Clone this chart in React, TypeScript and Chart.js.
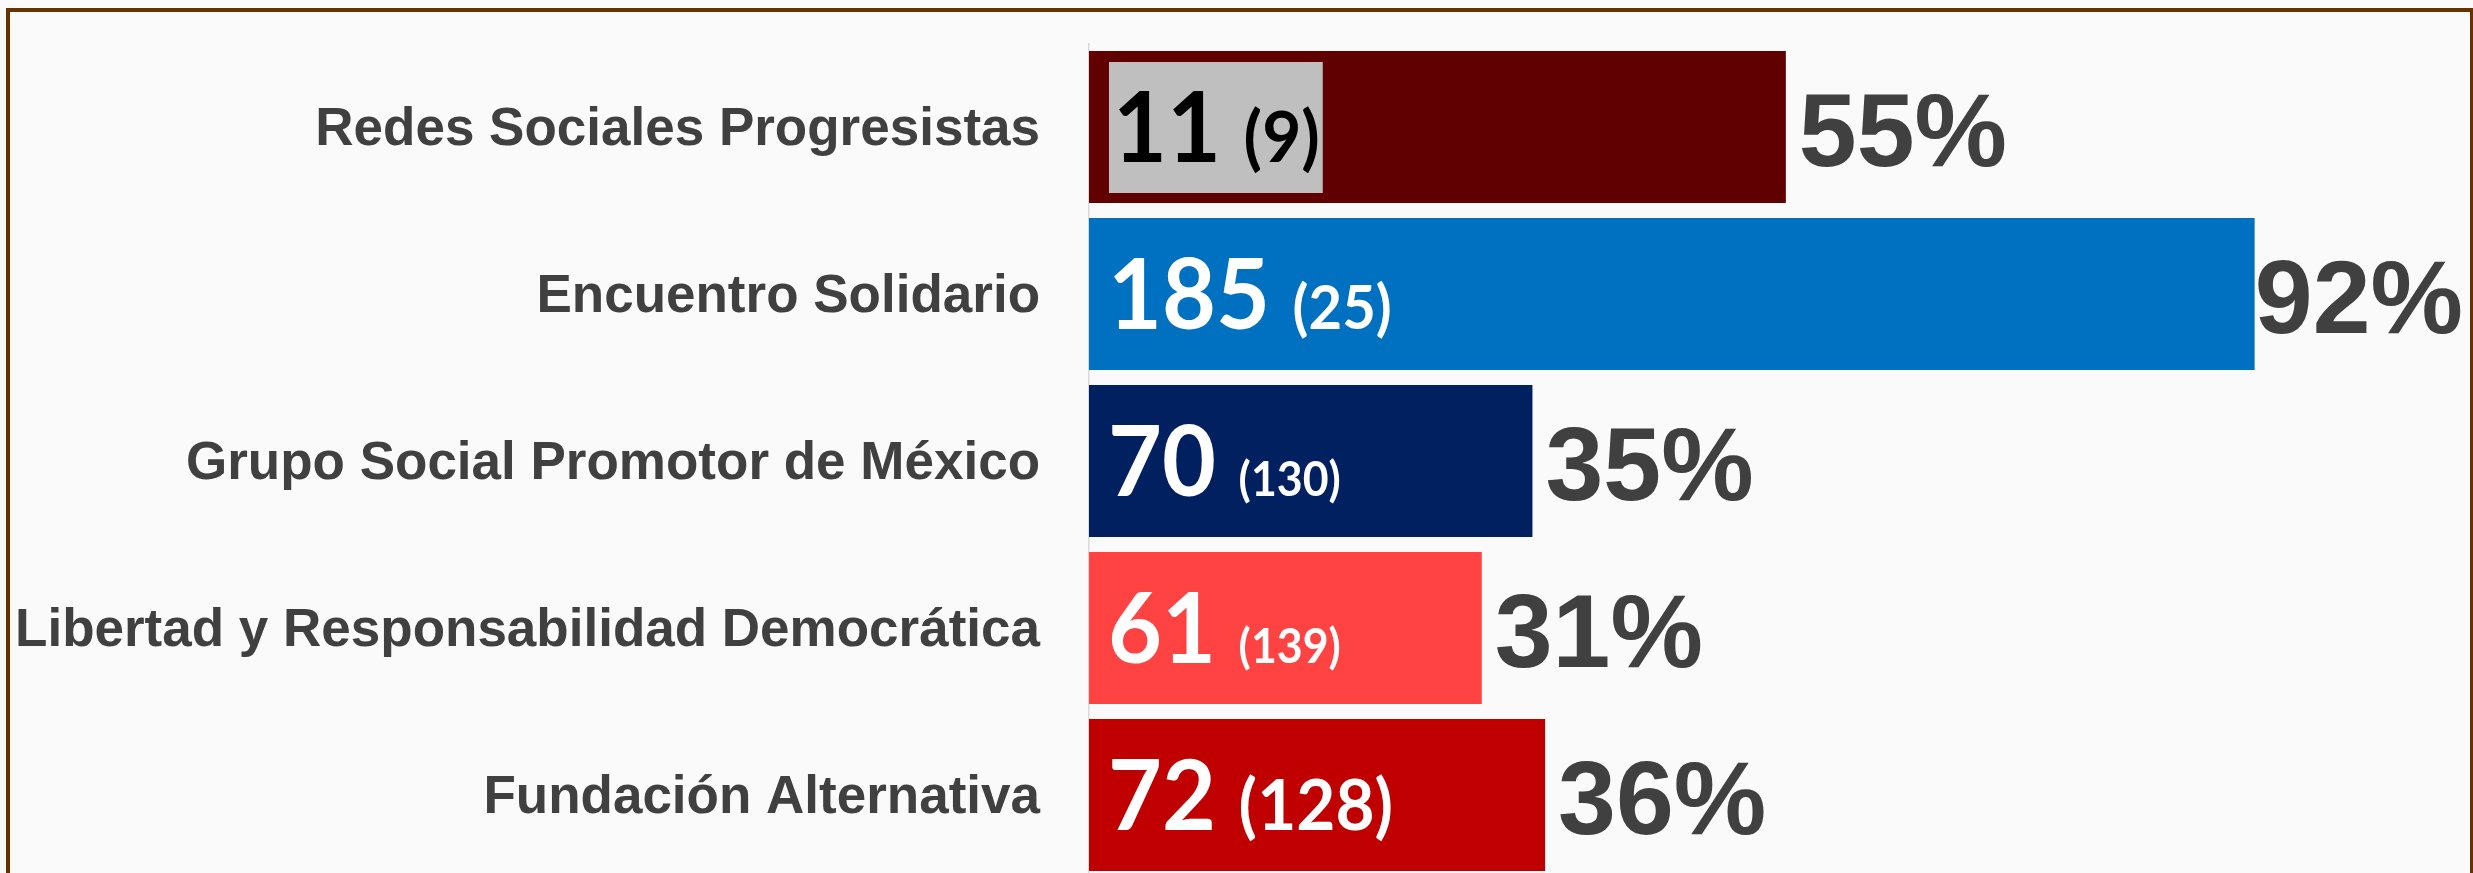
import React, { useEffect, useRef } from "react";
import { Chart, registerables } from "chart.js";

Chart.register(...registerables);

// ---- data ----
const categories = [
  "Redes Sociales Progresistas",
  "Encuentro Solidario",
  "Grupo Social Promotor de México",
  "Libertad y Responsabilidad Democrática",
  "Fundación Alternativa",
];
const percentValues = [55, 92, 35, 31, 36];
const countValues = [11, 185, 70, 61, 72];
const remainingValues = [9, 25, 130, 139, 128];

// ---- styles ----
const barColors = ["#600000", "#0070C0", "#002060", "#FF4343", "#C00000"];
const countTextColors = ["#000000", "#FFFFFF", "#FFFFFF", "#FFFFFF", "#FFFFFF"];
const countBoxColors: (string | null)[] = ["#BFBFBF", null, null, null, null];
const smallFontSizes = [71, 61, 47, 47, 71];

const AXIS_FONT = '"Liberation Sans", Arial, sans-serif';
const LABEL_FONT = 'Lato, "Open Sans", sans-serif';

const barLabelPlugin = {
  id: "barLabels",
  afterDatasetsDraw(chart: any) {
    const ctx: CanvasRenderingContext2D = chart.ctx;
    const meta = chart.getDatasetMeta(0);
    const sx = 0.95;
    meta.data.forEach((bar: any, i: number) => {
      const { x, y, base } = bar.getProps(["x", "y", "base"], true);
      const left = Math.min(base, x);
      const right = Math.max(base, x);
      ctx.save();
      ctx.textAlign = "left";
      ctx.textBaseline = "alphabetic";

      // inside label: big count + small (remaining)
      const bigText = String(countValues[i]);
      const smallText = `(${remainingValues[i]})`;
      ctx.font = `700 98px ${LABEL_FONT}`;
      const bigW = ctx.measureText(bigText).width * sx;
      const spaceW = ctx.measureText(" ").width * sx;
      ctx.font = `700 ${smallFontSizes[i]}px ${LABEL_FONT}`;
      const smallW = ctx.measureText(smallText).width * sx;
      const boxColor = countBoxColors[i];
      const tx = left + (boxColor ? 24 : 19);
      const baseY = y + 35;
      if (boxColor) {
        const bx = left + 20;
        ctx.fillStyle = boxColor;
        ctx.fillRect(bx, y - 65, tx + bigW + spaceW + smallW + 3 - bx, 131);
      }
      ctx.fillStyle = countTextColors[i];
      ctx.save();
      ctx.translate(tx, baseY);
      ctx.scale(sx, 1);
      ctx.font = `700 98px ${LABEL_FONT}`;
      ctx.fillText(bigText, 0, 0);
      ctx.restore();
      ctx.save();
      ctx.translate(tx + bigW + spaceW, baseY);
      ctx.scale(sx, 1);
      ctx.font = `700 ${smallFontSizes[i]}px ${LABEL_FONT}`;
      ctx.fillText(smallText, 0, 0);
      ctx.restore();

      // percentage outside the bar end
      const pt = `${percentValues[i]}%`;
      ctx.font = `700 104px ${AXIS_FONT}`;
      ctx.fillStyle = "#404040";
      const pw = ctx.measureText(pt).width;
      let px = right + 13;
      const maxRight = chart.width - 7;
      if (px + pw > maxRight) px = maxRight - pw;
      ctx.fillText(pt, px, y + 39);
      ctx.restore();
    });
  },
};

export default function App() {
  const ref = useRef<HTMLCanvasElement>(null);

  useEffect(() => {
    const canvas = ref.current;
    if (!canvas) return;
    const chart = new Chart(canvas, {
      type: "bar",
      data: {
        labels: categories,
        datasets: [
          {
            data: percentValues,
            backgroundColor: barColors,
            borderWidth: 0,
            barPercentage: 0.91,
            categoryPercentage: 1,
          },
        ],
      },
      options: {
        indexAxis: "y",
        animation: false,
        responsive: false,
        devicePixelRatio: 1,
        layout: { padding: { top: 31.5, bottom: 1.5, right: 114, left: 0 } },
        plugins: {
          legend: { display: false },
          tooltip: { enabled: false },
        },
        scales: {
          x: { display: false, min: 0, max: 100 },
          y: {
            grid: { display: false, drawTicks: false },
            border: { display: true, color: "#D9D9D9", width: 1.5 },
            ticks: {
              color: "#404040",
              font: { family: AXIS_FONT, size: 53, weight: "bold" },
              padding: 49,
              labelOffset: 3,
              autoSkip: false,
            },
            afterFit: (scale: any) => {
              scale.width = 1079;
              scale.paddingTop = 0;
              scale.paddingBottom = 0;
            },
          },
        },
      },
      plugins: [barLabelPlugin],
    } as any);

    let alive = true;
    const fonts: any = (document as any).fonts;
    if (fonts && fonts.load) {
      Promise.all([
        fonts.load(`700 98px Lato`),
        fonts.load(`700 53px "Liberation Sans"`),
      ])
        .then(() => {
          if (alive) chart.update();
        })
        .catch(() => {});
    }
    return () => {
      alive = false;
      chart.destroy();
    };
  }, []);

  return (
    <div style={{ position: "fixed", left: 0, top: 0, right: 0, bottom: 0, background: "#FAFAFA" }}>
      <div
        style={{
          position: "absolute",
          left: 6,
          top: 8,
          width: 2468,
          height: 880,
          border: "4px solid #663300",
          boxSizing: "border-box",
          background: "#FAFAFA",
          overflow: "hidden",
        }}
      >
        <canvas
          ref={ref}
          width={2460}
          height={868}
          style={{ position: "absolute", left: 0, top: 0, width: 2460, height: 868, display: "block" }}
        />
      </div>
    </div>
  );
}
